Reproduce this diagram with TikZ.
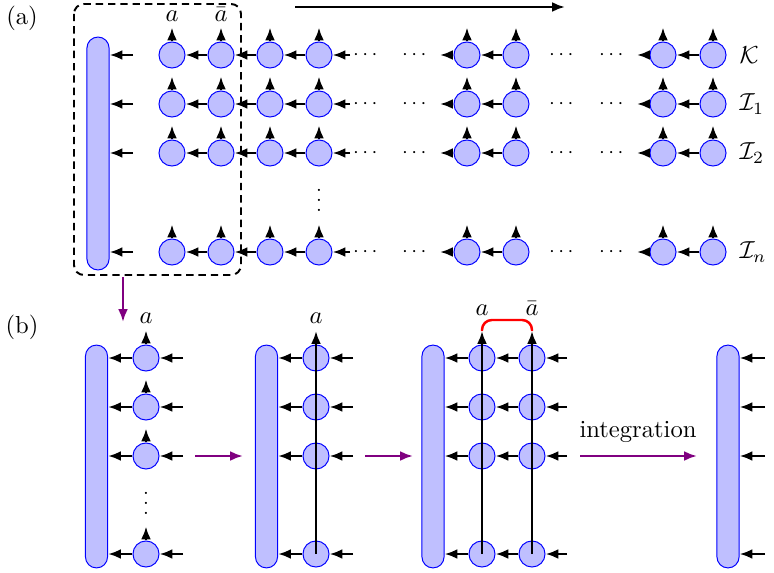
\documentclass[tikz,border=0pt]{standalone}
\definecolor{flowpurple}{rgb}{0.5, 0.0, 0.5}
\usepackage{tikz}
\usetikzlibrary{arrows.meta, positioning, calc}
\usepackage{amsmath,amssymb}

\begin{document}
\begin{tikzpicture}[
    x=0.4065pt, y=-0.4065pt,
    site/.style={circle, draw=blue, fill=blue!25,
                 minimum size=10.6pt, inner sep=0pt},
    bar/.style={rectangle, rounded corners=4.5pt, draw=blue, fill=blue!25,
                minimum width=9pt, inner sep=0pt},
    arr/.style={-{Latex[length=5.2pt, width=4pt]}, line width=1pt},
    flow/.style={-{Latex[length=5.2pt, width=4pt]}, line width=1pt,
                 draw=flowpurple, fill=flowpurple},
    gap/.style={inner sep=0pt, font=\footnotesize}
  ]
  \useasboundingbox (0,0) rectangle (774,573);

  % (a) chains of sites
  \node (ta) at (22,18) {(a)};
  \node[bar, minimum height=94.7pt] (barA) at (98,153.5) {};
  \foreach \y/\lab [count=\r] in {55/\mathcal{K}, 104/\mathcal{I}_1,
                                  153/\mathcal{I}_2, 252/\mathcal{I}_n} {
    \foreach \x [count=\i] in {172,221,270,319,467,516,663,713}
      \node[site] (s\r-\i) at (\x,\y) {};
    \coordinate (a\r-0) at (133,\y);
    \coordinate (a\r-4) at (350,\y);
    \coordinate (a\r-5) at (440,\y);
    \coordinate (a\r-7) at (637,\y);
    \draw[arr] (a\r-0) -- (barA.east |- a\r-0);
    \foreach \i/\j in {2/1,3/2,4/3,6/5,8/7}
      \draw[arr] (s\r-\i) -- (s\r-\j);
    \draw[arr] (a\r-4) -- (s\r-4);
    \draw[arr] (s\r-5) -- (a\r-5);
    \draw[arr] (s\r-7) -- (a\r-7);
    \foreach \i in {1,...,8}
      \draw[arr] (s\r-\i.north) -- ++(0,-14);
    \foreach \x in {367,416,563,613}
      \node[gap] at (\x,\y) {$\cdots$};
    \node[anchor=west] (lab\r) at (731,\y) {$\lab$};
  }
  \node[gap] at (319,193) {$\vdots$};
  \node[anchor=base] (la) at (172,22) {$a$};
  \node[anchor=base] (lb) at (221,22) {$\bar{a}$};

  \coordinate (t0) at (295,7);
  \coordinate (t1) at (565,7);
  \draw[arr] (t0) -- (t1);

  \draw[thick, dash pattern=on 3pt off 2pt, rounded corners=4pt]
    (74,4) rectangle (241,275);
  \coordinate (d0) at (123,277);
  \coordinate (d1) at (123,322);
  \draw[flow] (d0) -- (d1);

  % (b) integration steps
  \node (tb) at (22,327) {(b)};
  \foreach \x [count=\k] in {96.5,266.5,433,728}
    \node[bar, minimum height=90.6pt] (barB\k) at (\x,456.5) {};

  \foreach \y [count=\r] in {358,407,456,554} {
    % step 1
    \node[site] (p\r) at (146,\y) {};
    \coordinate (pin\r) at (183,\y);
    \draw[arr] (p\r) -- (barB1.east |- p\r);
    \draw[arr] (pin\r) -- (p\r);
    \draw[arr] (p\r.north) -- ++(0,-14);
    % step 2
    \node[site] (q\r) at (316,\y) {};
    \coordinate (qin\r) at (353,\y);
    \draw[arr] (q\r) -- (barB2.east |- q\r);
    \draw[arr] (qin\r) -- (q\r);
    % step 3
    \node[site] (u\r) at (482,\y) {};
    \node[site] (v\r) at (532,\y) {};
    \coordinate (vin\r) at (567,\y);
    \draw[arr] (u\r) -- (barB3.east |- u\r);
    \draw[arr] (v\r) -- (u\r);
    \draw[arr] (vin\r) -- (v\r);
    % step 4
    \coordinate (win\r) at (765,\y);
    \draw[arr] (win\r) -- (barB4.east |- win\r);
  }
  \node[gap] at (146,496) {$\vdots$};
  \node[anchor=base] (lp) at (146,323) {$a$};

  \coordinate (qtop) at (316,331);
  \draw[arr] (q4.center) -- (qtop);
  \node[anchor=base] (lq) at (316,323) {$a$};

  \coordinate (utop) at (482,331);
  \coordinate (vtop) at (532,331);
  \draw[arr] (u4.center) -- (utop);
  \draw[arr] (v4.center) -- (vtop);
  \draw[red, line width=1pt, rounded corners=4pt]
    (utop) -- (482,320) -- (532,320) -- (vtop);
  \node[anchor=base] (lu) at (482,315) {$a$};
  \node[anchor=base] (lv) at (532,315) {$\bar{a}$};

  \coordinate (f1a) at (195,456);
  \coordinate (f1b) at (243,456);
  \coordinate (f2a) at (365,456);
  \coordinate (f2b) at (413,456);
  \coordinate (f3a) at (580,456);
  \coordinate (f3b) at (697,456);
  \draw[flow] (f1a) -- (f1b);
  \draw[flow] (f2a) -- (f2b);
  \draw[flow] (f3a) -- (f3b);
  \node (int) at (638,432) {integration};
\end{tikzpicture}
\end{document}
